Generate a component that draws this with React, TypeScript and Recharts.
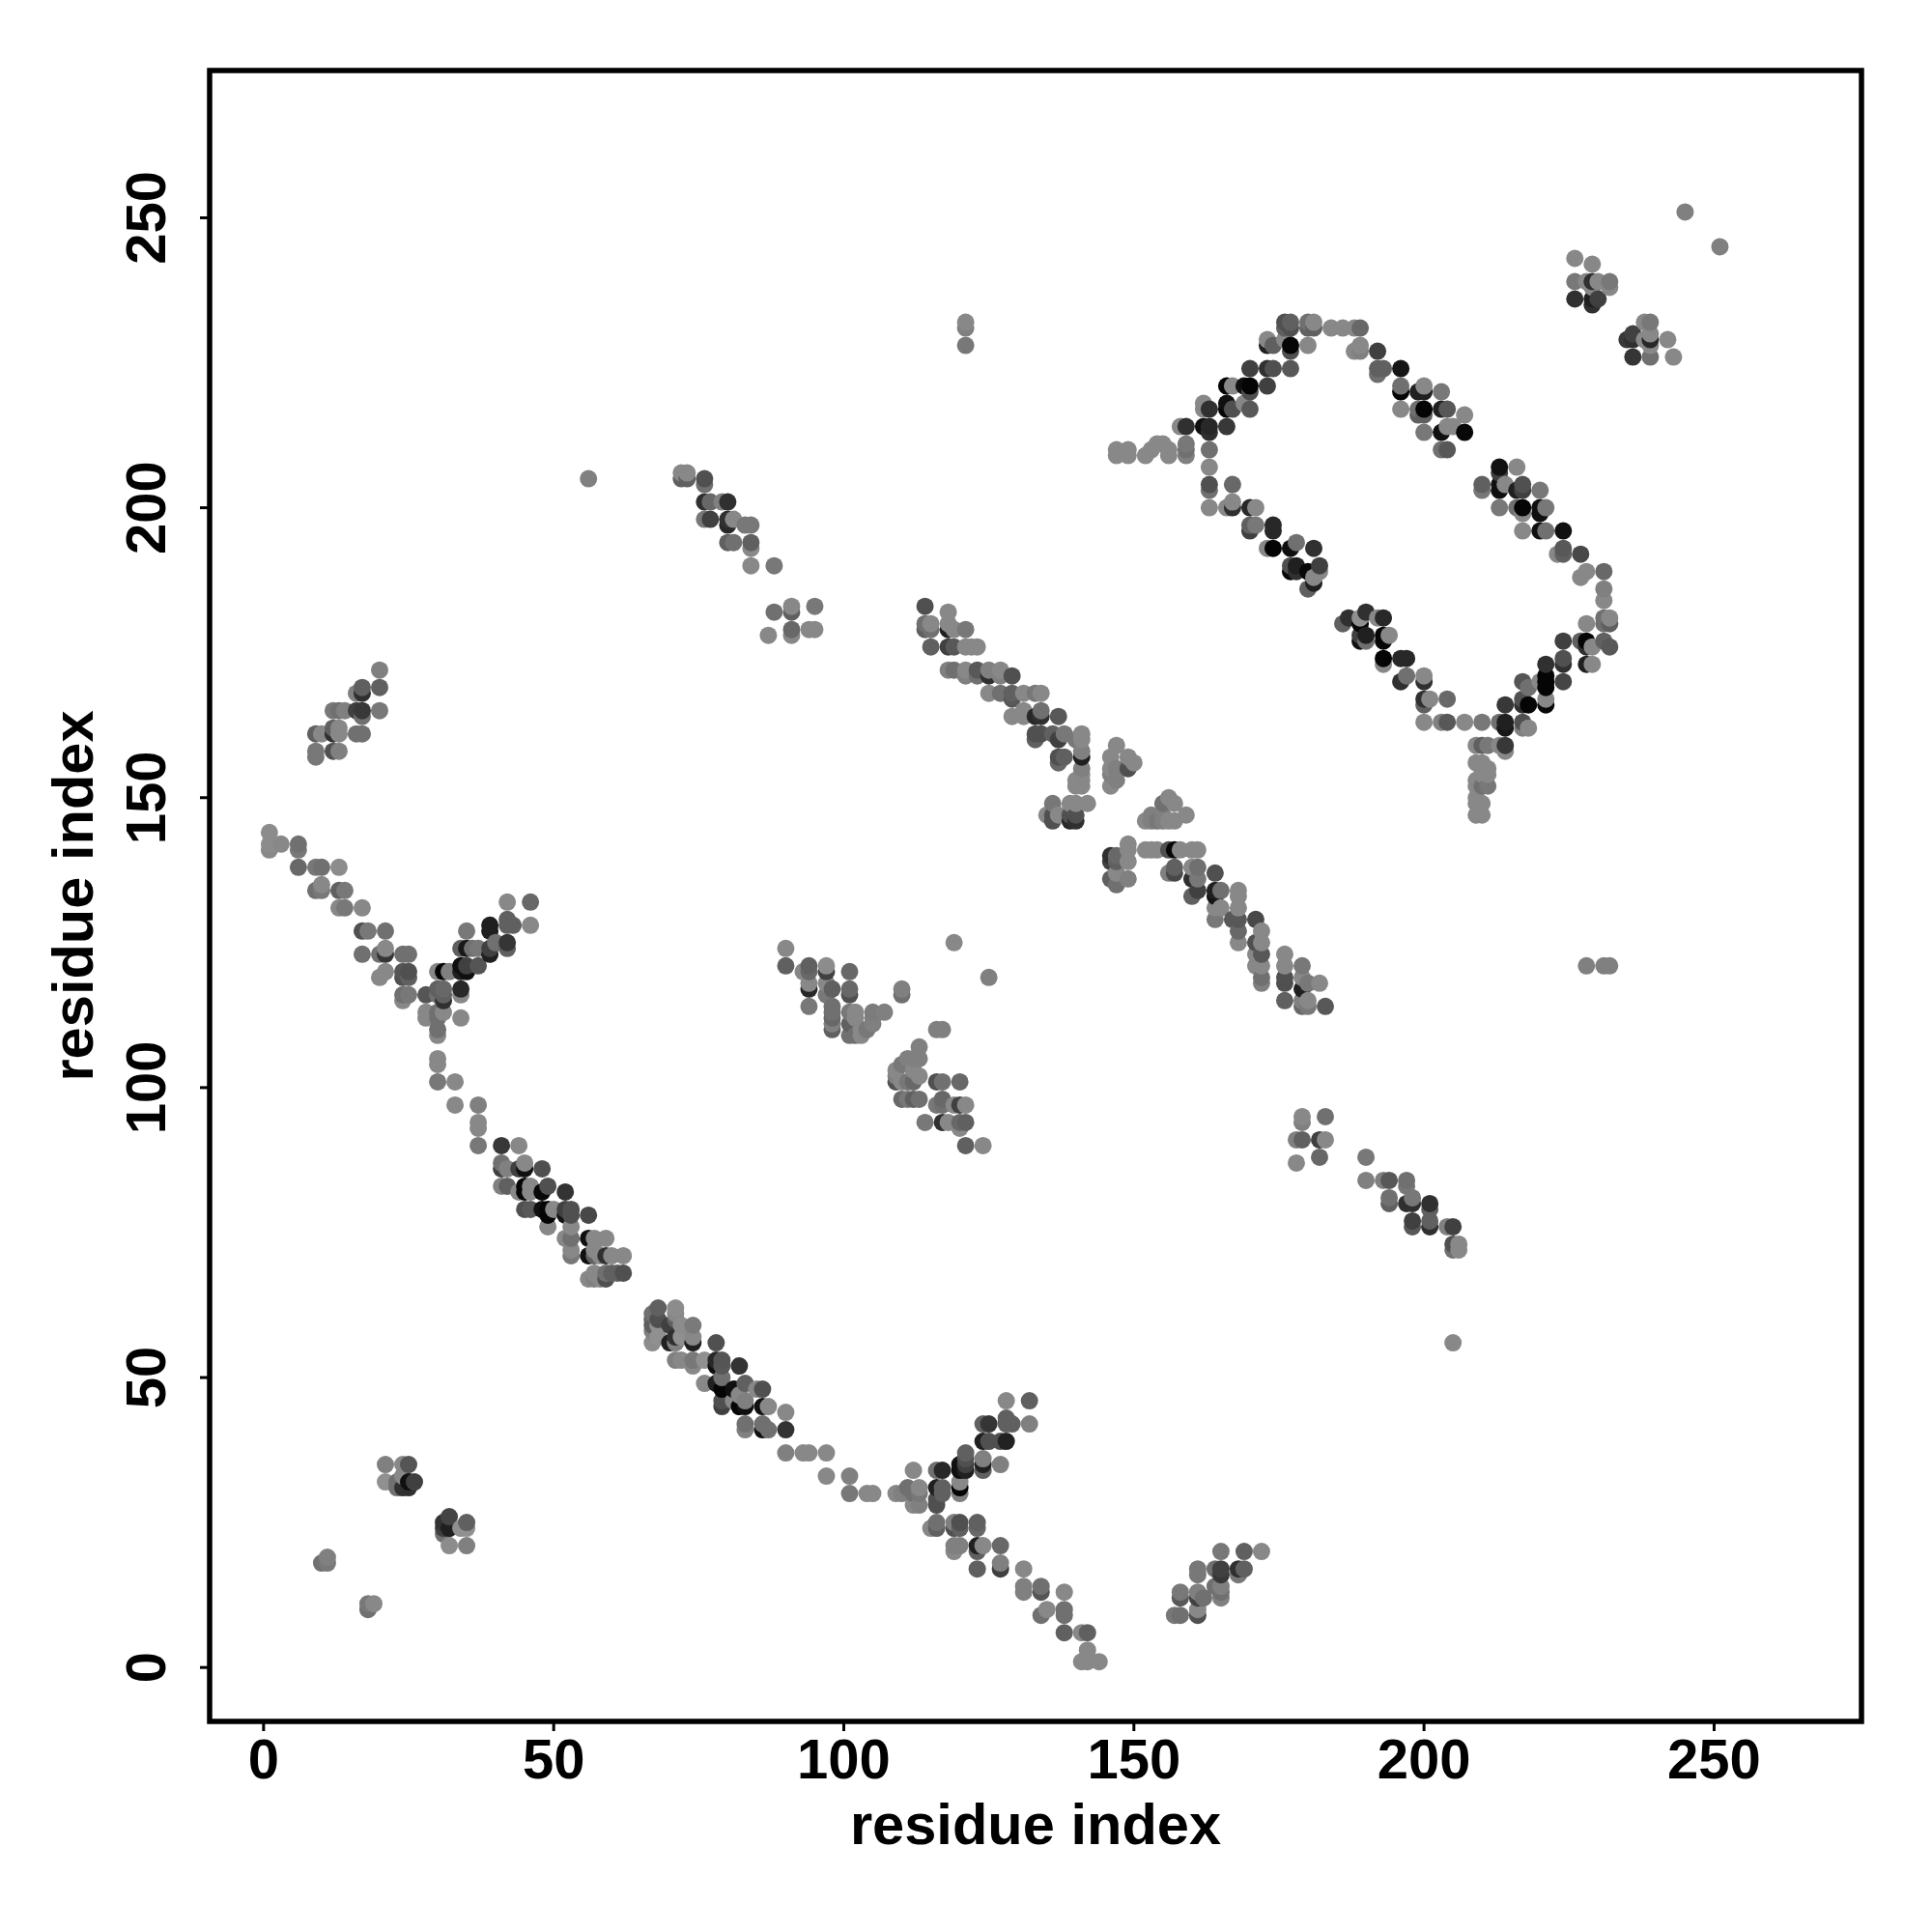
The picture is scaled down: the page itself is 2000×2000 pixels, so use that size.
import { ScatterChart, Scatter, XAxis, YAxis, ReferenceArea, Label } from "recharts";

// [residue i, residue j, grey level]
type Contact = [number, number, number];

const TICKS = [0, 50, 100, 150, 200, 250];
const DOMAIN: [number, number] = [-9.3, 275.4];
const FONT = "'Liberation Sans', Arial, sans-serif";

const patchesLowerLeft: Contact[] = [
  [21,35,0x80],[21,32,0x90],[24,35,0x88],[25,35,0x55],[23,31,0x70],[24,31,0x30],[25,31,0x30],[26,32,0x40],[25,32,0x10],[23,32,0x70],[24,33,0x88],
  [32,26,0x44],[35,25,0x60],[35,24,0x90],[31,25,0x33],[31,24,0x40],[31,23,0x70],[32,24,0x20],[32,21,0x8c],[35,21,0x80],[34,24,0x90],
  [11,19,0x80],[10,18,0x70],[11,18,0x78],[19,11,0x88],[18,11,0x78],[18,10,0x70],
];

const strandLowerA: Contact[] = [
  [41,90,0x38],[44,90,0x88],[41,87,0x70],[42,86,0x80],[41,86,0x40],[41,83,0x80],[42,83,0x60],[44,86,0x40],[45,87,0x88],[45,86,0x10],[48,86,0x50],
  [44,82,0x88],[45,83,0x05],[45,82,0x05],[46,83,0x88],[46,82,0x88],[48,82,0x08],[49,83,0x50],[52,82,0x33],[45,79,0x50],[46,79,0x58],[48,79,0x10],
  [49,79,0x05],[49,78,0x05],[50,79,0x88],[49,76,0x88],[52,79,0x40],[53,79,0x50],[52,78,0x15],[53,78,0x50],[56,78,0x48],[53,76,0x88],[52,74,0x88],
  [53,74,0x70],[53,72,0x88],[53,71,0x78],[56,74,0x10],[57,74,0x88],[59,74,0x88],[56,71,0x10],[57,72,0x88],[57,71,0x60],[58,71,0x88],[59,71,0x30],
  [60,71,0x88],[62,71,0x88],[56,67,0x88],[57,68,0x88],[58,67,0x88],[59,68,0x70],[60,68,0x60],[61,68,0x60],[62,68,0x50],[57,67,0x80],[59,67,0x50],
];

const strandLowerB: Contact[] = [
  [68,62,0x60],[67,61,0x70],[67,60,0x60],[68,60,0x50],[67,59,0x60],[68,59,0x90],[67,58,0x80],[68,57,0x90],[67,56,0x8c],[71,62,0x8c],[71,61,0x88],
  [70,59,0x40],[71,60,0x60],[72,59,0x8c],[71,57,0x30],[70,56,0x20],[72,57,0x90],[71,56,0x80],[74,59,0x7a],[74,57,0x88],[74,56,0x20],[71,53,0x80],
  [72,53,0x88],[74,53,0x78],[74,52,0x88],[76,53,0x90],[78,56,0x50],[78,53,0x28],[79,53,0x55],[78,52,0x10],[79,52,0x58],[82,52,0x33],[76,49,0x88],
  [78,49,0x20],[79,50,0x70],[79,48,0x05],[79,46,0x50],[79,45,0x40],[81,48,0x10],[83,49,0x60],[82,47,0x88],[81,46,0x88],[82,45,0x05],[83,45,0x10],
  [83,46,0x80],[86,48,0x50],[85,48,0x88],[86,45,0x10],[87,45,0x88],[83,42,0x70],[83,41,0x80],[86,41,0x10],[87,41,0x70],[86,42,0x70],[90,44,0x88],
  [90,41,0x33],[90,37,0x80],[93,37,0x88],[94,37,0x88],[97,37,0x88],[97,33,0x88],[101,33,0x80],[101,30,0x78],[104,30,0x88],[105,30,0x88],
];

const crossingLower: Contact[] = [
  [109,30,0x88],[110,30,0x80],[112,34,0x88],[111,31,0x70],[112,30,0x70],[113,31,0x88],[112,28,0x88],[113,28,0x80],[113,30,0x78],[116,34,0x70],
  [117,34,0x28],[116,31,0x20],[117,31,0x60],[116,28,0x50],[117,30,0x60],[116,29,0x50],[120,32,0x88],[120,31,0x05],[120,30,0x80],[120,35,0x10],
  [121,37,0x60],[121,35,0x40],[121,36,0x50],[120,34,0x10],[121,34,0x20],[124,36,0x80],[124,35,0x20],[124,34,0x60],[127,35,0x80],[124,39,0x20],
  [125,39,0x50],[128,39,0x22],[127,39,0x50],[124,42,0x60],[125,42,0x35],[128,43,0x60],[129,42,0x60],[128,42,0x60],[128,46,0x88],[132,46,0x60],
  [132,42,0x80],[116,25,0x70],[115,24,0x88],[116,24,0x60],[119,25,0x80],[120,25,0x50],[119,24,0x50],[120,24,0x60],[123,25,0x60],[123,24,0x68],
  [119,20,0x88],[120,21,0x80],[119,21,0x80],[123,21,0x20],[124,21,0x88],[127,21,0x68],[123,20,0x60],[123,17,0x60],[127,18,0x80],[127,17,0x40],
  [131,17,0x88],[131,14,0x80],[131,13,0x80],[134,14,0x70],[134,13,0x55],[134,9,0x70],[135,10,0x88],[138,13,0x88],[138,10,0x70],[138,9,0x70],
  [138,6,0x60],[141,6,0x88],[142,6,0x60],[142,3,0x88],[141,1,0x88],[142,1,0x88],[144,1,0x88],
];

const crossingUpper: Contact[] = [
  [1,144,0x8c],[1,142,0x8c],[1,141,0x88],[3,142,0x88],[6,142,0x70],[6,141,0x78],[6,138,0x68],[9,138,0x78],[10,138,0x70],[13,138,0x8c],[10,135,0x88],
  [9,134,0x70],[10,134,0x78],[13,134,0x60],[14,134,0x78],[13,131,0x88],[14,131,0x78],[17,131,0x88],[17,127,0x50],[18,127,0x78],[21,127,0x70],
  [17,123,0x70],[20,123,0x70],[21,123,0x35],[21,124,0x88],[24,123,0x70],[25,123,0x70],[20,119,0x88],[21,120,0x88],[24,120,0x55],[25,120,0x50],
  [24,119,0x50],[25,119,0x60],[24,116,0x70],[25,116,0x78],[24,115,0x88],[28,116,0x55],[30,120,0x88],[31,120,0x05],[32,120,0x80],[30,117,0x60],
  [31,117,0x68],[31,116,0x60],[31,115,0x30],[30,116,0x70],[34,117,0x28],[34,116,0x88],[28,113,0x88],[28,112,0x88],[30,113,0x70],[31,113,0x88],
  [30,112,0x70],[34,112,0x88],[30,110,0x70],[30,109,0x88],[30,105,0x88],[30,104,0x88],[30,101,0x78],[33,101,0x88],[33,97,0x88],[37,97,0x80],
  [37,94,0x88],[37,93,0x88],[37,90,0x78],[35,127,0x78],[34,124,0x60],[35,124,0x18],[36,124,0x70],[37,124,0x78],[34,121,0x10],[35,121,0x40],
  [35,120,0x10],[34,120,0x20],[37,121,0x55],[39,128,0x20],[39,127,0x20],[39,124,0x40],[39,123,0x20],[40,125,0x70],[42,129,0x60],[42,128,0x60],
  [43,128,0x60],[42,132,0x88],[46,132,0x68],[46,128,0x88],[42,125,0x35],[42,124,0x60],
];

const patchUpperLeft: Contact[] = [
  [20,172,0x80],[20,169,0x60],[17,169,0x60],[16,168,0x80],[17,168,0x30],[20,165,0x78],[17,165,0x38],[16,165,0x40],[17,164,0x70],[12,165,0x78],
  [13,165,0x70],[14,165,0x80],[12,162,0x60],[13,162,0x88],[13,161,0x88],[12,161,0x30],[16,161,0x70],[17,161,0x70],[9,161,0x60],[10,161,0x88],
  [12,158,0x50],[13,158,0x80],[9,158,0x78],[9,157,0x78],
];

const patchCentral: Contact[] = [
  [90,124,0x88],[90,121,0x60],[93,120,0x88],[94,121,0x60],[94,120,0x68],[94,118,0x88],[94,117,0x28],[94,114,0x78],[97,121,0x8c],[97,120,0x40],
  [97,118,0x88],[101,120,0x68],[101,117,0x68],[101,116,0x50],[98,117,0x60],[97,116,0x78],[98,114,0x70],[98,113,0x70],[98,112,0x68],[98,111,0x80],
  [98,110,0x60],[101,113,0x78],[102,113,0x88],[101,111,0x60],[101,109,0x70],[102,109,0x70],[103,109,0x88],[102,112,0x88],[103,110,0x88],[105,113,0x7c],
  [107,113,0x80],[105,112,0x80],[105,111,0x80],[104,110,0x78],[110,117,0x80],[110,116,0x70],[119,125,0x88],[125,119,0x80],[116,110,0x80],[117,110,0x80],
  [113,107,0x80],[111,105,0x80],[113,105,0x80],[112,105,0x80],[109,103,0x88],[110,104,0x78],[109,102,0x80],[109,101,0x50],[110,101,0x88],[112,103,0x88],
  [113,102,0x88],[111,101,0x78],[112,101,0x68],[116,101,0x50],[117,101,0x70],[120,101,0x68],[110,98,0x68],[111,98,0x78],[112,98,0x60],[113,98,0x70],
  [116,97,0x78],[117,98,0x68],[117,97,0x70],[119,97,0x88],[120,97,0x40],[121,97,0x88],[114,94,0x78],[117,94,0x30],[118,94,0x88],[120,94,0x68],
  [121,94,0x60],[120,93,0x88],[121,90,0x60],[124,90,0x88],
];

const helixUpper: Contact[] = [
  [114,183,0x50],[118,182,0x88],[114,180,0x70],[115,180,0x88],[114,179,0x60],[115,179,0x70],[115,176,0x60],[118,180,0x88],[118,179,0x20],[119,179,0x88],
  [121,179,0x78],[118,176,0x40],[119,176,0x58],[121,176,0x88],[122,176,0x88],[123,176,0x88],[118,172,0x80],[119,172,0x70],[121,172,0x88],[123,172,0x58],
  [125,172,0x80],[127,172,0x88],[121,171,0x80],[123,171,0x70],[125,171,0x30],[127,171,0x80],[129,171,0x50],[125,168,0x88],[127,168,0x70],[129,168,0x60],
  [129,167,0x58],[131,168,0x88],[133,168,0x78],[134,168,0x88],[129,164,0x88],[131,165,0x88],[131,164,0x88],[133,164,0x28],[134,165,0x70],[134,164,0x30],
  [137,164,0x58],[133,161,0x50],[134,161,0x50],[133,160,0x60],[136,161,0x60],[137,160,0x40],[138,161,0x78],[141,161,0x88],[141,160,0x88],[140,160,0x78],
  [137,157,0x50],[138,157,0x60],[137,156,0x68],[141,158,0x80],[141,157,0x20],[141,155,0x80],[141,154,0x88],[140,153,0x88],[141,153,0x88],[141,152,0x88],
  [140,152,0x88],[147,159,0x88],[146,157,0x88],[146,155,0x88],[146,154,0x80],[146,152,0x88],[147,155,0x80],[147,153,0x80],[149,157,0x88],[149,155,0x50],
  [150,156,0x88],[136,149,0x78],[135,147,0x88],[136,147,0x50],[136,146,0x50],[137,147,0x88],[139,149,0x88],[140,149,0x88],[142,149,0x88],[139,147,0x50],
  [140,147,0x50],[139,146,0x28],[140,146,0x30],
];

const helixLower: Contact[] = [
  [156,150,0x88],[155,149,0x70],[157,149,0x88],[155,147,0x80],[159,147,0x88],[152,146,0x88],[153,147,0x80],[153,146,0x80],[154,146,0x78],[155,146,0x80],
  [156,146,0x88],[157,146,0x88],[149,142,0x88],[149,141,0x88],[146,140,0x30],[147,140,0x68],[146,139,0x40],[147,139,0x60],[149,139,0x88],[152,141,0x88],
  [153,141,0x88],[154,141,0x88],[156,141,0x50],[157,141,0x08],[158,141,0x88],[161,141,0x88],[160,141,0x88],[146,136,0x60],[147,135,0x70],[147,137,0x88],
  [149,136,0x80],[156,137,0x80],[157,138,0x60],[157,137,0x48],[160,138,0x88],[161,138,0x70],[160,136,0x30],[161,136,0x78],[164,137,0x50],[160,133,0x60],
  [161,134,0x40],[165,134,0x70],[164,134,0x20],[164,133,0x15],[168,134,0x88],[168,133,0x88],[164,129,0x78],[165,131,0x88],[164,131,0x88],[168,131,0x88],
  [167,129,0x58],[168,129,0x58],[168,127,0x68],[168,125,0x88],[171,129,0x48],[172,127,0x88],[172,125,0x88],[171,125,0x50],[171,123,0x88],[172,123,0x58],
  [171,121,0x88],[172,121,0x88],[172,119,0x70],[172,118,0x80],[176,123,0x88],[176,121,0x88],[179,121,0x78],[176,119,0x50],[176,118,0x50],[179,119,0x88],
  [179,117,0x20],[180,118,0x78],[182,118,0x88],[176,115,0x60],[179,114,0x68],[180,115,0x88],[180,114,0x78],[183,114,0x58],[179,115,0x80],
  [228,121,0x80],[231,121,0x80],[232,121,0x80],
];

const ringTop: Contact[] = [
  [176,232,0x50],[177,232,0x60],[176,231,0x60],[177,231,0x50],[180,232,0x70],[181,232,0x88],[180,231,0x60],[181,231,0x60],[184,231,0x88],[186,231,0x88],
  [188,231,0x88],[189,231,0x68],[173,229,0x88],[173,228,0x20],[174,228,0x60],[176,229,0x88],[177,228,0x05],[177,227,0x50],[180,228,0x88],[188,227,0x88],
  [189,228,0x88],[189,227,0x80],[192,227,0x40],[170,224,0x40],[173,224,0x30],[174,224,0x50],[177,224,0x58],[192,224,0x60],[193,224,0x60],[192,223,0x70],
  [196,224,0x15],[166,221,0x05],[167,221,0x88],[169,221,0x10],[170,221,0x05],[173,221,0x40],[170,220,0x50],[196,221,0x70],[196,220,0x05],[199,220,0x20],
  [200,221,0x88],[200,220,0x20],[203,220,0x78],[162,218,0x88],[162,217,0x88],[163,217,0x30],[166,218,0x10],[166,217,0x05],[167,217,0x50],[169,218,0x88],
  [170,217,0x58],[196,217,0x88],[199,217,0x70],[200,217,0x05],[203,217,0x20],[204,217,0x58],[199,216,0x60],[200,216,0x60],[207,216,0x88],[158,214,0x88],
  [159,214,0x30],[162,214,0x10],[163,214,0x28],[166,214,0x38],[163,213,0x30],[200,213,0x78],[203,213,0x10],[204,214,0x88],[207,213,0x08],[205,214,0x88],
  [203,210,0x70],[204,210,0x58],[147,210,0x88],[149,210,0x88],[149,209,0x88],[147,209,0x88],[152,209,0x88],[153,210,0x88],[154,211,0x88],[155,211,0x88],
  [156,210,0x88],[156,209,0x88],[159,211,0x78],[159,210,0x70],[159,209,0x80],
];

const ringInner: Contact[] = [
  [163,210,0x70],[163,207,0x88],[163,204,0x50],[163,203,0x70],[167,204,0x68],[163,200,0x88],[166,200,0x88],[167,201,0x88],[167,200,0x30],[170,200,0x28],
  [171,200,0x88],[170,197,0x60],[171,197,0x78],[170,196,0x40],[174,197,0x28],[174,196,0x28],[173,193,0x88],[174,193,0x05],[177,193,0x10],[178,194,0x70],
  [181,193,0x30],[177,190,0x50],[178,190,0x20],[177,189,0x08],[178,189,0x30],[180,189,0x08],[182,190,0x40],[182,189,0x88],[181,188,0x88],[181,187,0x20],
  [180,186,0x60],[186,180,0x60],[187,181,0x30],[189,181,0x90],[190,182,0x30],[189,180,0x08],[193,181,0x28],[192,181,0x88],[189,178,0x40],[190,178,0x20],
  [189,177,0x10],[190,177,0x70],[193,178,0x05],[194,178,0x88],[193,177,0x08],[193,174,0x05],[193,173,0x88],[196,174,0x28],[197,174,0x28],[196,170,0x30],
  [197,171,0x70],[200,171,0x88],[200,170,0x30],[200,167,0x30],[200,166,0x60],[201,167,0x88],[204,167,0x68],[200,163,0x88],[203,163,0x80],[204,163,0x58],
  [207,163,0x88],[210,163,0x78],[213,163,0x70],[214,163,0x20],[214,162,0x18],[214,166,0x38],
];

const ringRight: Contact[] = [
  [209,159,0x88],[210,159,0x60],[211,159,0x78],[213,159,0x88],[214,159,0x38],[214,158,0x88],[209,156,0x88],[210,156,0x88],[210,155,0x88],[211,155,0x88],
  [211,154,0x88],[210,154,0x88],[209,153,0x88],[210,152,0x70],[209,152,0x88],[211,152,0x78],[209,150,0x88],[210,149,0x88],[209,149,0x88],[209,147,0x88],[210,147,0x88],
  [217,163,0x50],[218,162,0x88],[217,162,0x80],[217,170,0x55],[218,169,0x70],[217,167,0x50],[218,166,0x05],[217,166,0x30],[221,173,0x30],[221,171,0x05],
  [221,169,0x05],[221,170,0x05],[224,173,0x30],[224,174,0x50],[224,170,0x45],[224,177,0x40],[221,167,0x88],[221,166,0x08],[220,170,0x88],[227,177,0x60],
  [228,177,0x05],[228,180,0x88],[228,176,0x30],[229,176,0x88],[228,173,0x20],[229,173,0x88],[231,189,0x68],[231,186,0x80],[231,184,0x88],[228,189,0x88],
  [227,188,0x88],[224,193,0x58],[224,192,0x60],[223,192,0x88],[227,192,0x48],[231,181,0x70],[232,181,0x88],[231,180,0x70],[232,180,0x60],[231,177,0x60],
  [232,176,0x58],[213,207,0x12],[213,206,0x40],[216,207,0x88],[210,204,0x60],[210,203,0x78],[213,204,0x10],[213,203,0x10],[214,204,0x88],[217,204,0x50],
  [217,203,0x40],[216,203,0x20],[220,203,0x78],[213,200,0x78],[216,200,0x70],[217,200,0x05],[220,200,0x10],[221,200,0x78],[217,199,0x88],[220,199,0x10],
  [217,196,0x88],[220,196,0x10],[221,196,0x70],[224,196,0x10],
];

const patchesUpperRight: Contact[] = [
  [245,251,0x80],[251,245,0x80],[226,243,0x88],[229,242,0x88],[226,239,0x78],[228,239,0x88],[229,239,0x30],[230,239,0x88],[232,239,0x78],[232,238,0x88],
  [226,236,0x30],[229,235,0x30],[229,236,0x20],[230,236,0x40],[229,238,0x88],[239,232,0x78],[238,232,0x88],[236,230,0x40],[235,229,0x38],[236,229,0x30],
  [238,229,0x88],[239,230,0x88],[239,229,0x28],[239,228,0x88],[242,229,0x88],[236,226,0x35],[239,226,0x70],[243,226,0x88],
  [121,232,0x88],[121,231,0x80],[121,228,0x78],[56,205,0x80],
];

const strandTopCentre: Contact[] = [
  [72,206,0x88],[73,206,0x88],[72,205,0x60],[73,205,0x60],[76,205,0x50],[76,204,0x70],[76,201,0x30],[77,201,0x68],[79,201,0x80],[80,201,0x30],[76,198,0x78],
  [77,198,0x40],[80,198,0x30],[80,197,0x28],[81,198,0x88],[83,197,0x78],[84,197,0x78],[80,194,0x60],[81,194,0x70],[84,194,0x60],[84,193,0x88],[84,190,0x88],
  [88,190,0x78],[88,182,0x70],[91,183,0x88],[91,182,0x60],[95,183,0x78],[87,178,0x88],[91,179,0x68],[91,178,0x88],[94,179,0x88],[95,179,0x88],
];

const patchesLowerRight: Contact[] = [
  [165,20,0x78],[169,20,0x60],[172,20,0x88],[161,17,0x78],[161,16,0x78],[164,17,0x70],[165,17,0x40],[165,16,0x38],[168,17,0x30],[169,17,0x60],[168,16,0x78],
  [158,13,0x78],[158,12,0x58],[161,13,0x80],[161,12,0x40],[162,12,0x70],[164,14,0x70],[165,14,0x80],[165,13,0x70],[165,12,0x80],[157,9,0x78],[158,9,0x70],
  [161,10,0x88],[161,9,0x50],[179,95,0x88],[179,94,0x80],[183,95,0x70],[178,91,0x80],[179,91,0x60],[182,91,0x40],[183,91,0x88],[178,87,0x88],[182,88,0x68],
  [190,88,0x78],[190,84,0x80],[193,84,0x80],[194,84,0x58],[197,84,0x70],[197,83,0x78],[194,81,0x70],[194,80,0x60],[197,80,0x30],[198,81,0x78],[198,80,0x30],
  [201,80,0x30],[201,79,0x60],[198,77,0x40],[198,76,0x58],[201,77,0x60],[201,76,0x30],[204,76,0x80],[205,76,0x40],[205,73,0x50],[206,73,0x88],[205,72,0x70],
  [206,72,0x88],[205,56,0x88],
];

// the source drew contacts in residue order, later ones cover earlier ones
const contacts = [
  ...patchesLowerLeft, ...strandLowerA, ...strandLowerB, ...crossingLower, ...crossingUpper, ...patchUpperLeft, ...patchCentral,
  ...helixUpper, ...helixLower, ...ringTop, ...ringInner, ...ringRight, ...patchesUpperRight, ...strandTopCentre, ...patchesLowerRight,
]
  .map(([x, y, grey]) => ({ x, y, grey }))
  .sort((a, b) => a.x - b.x || a.y - b.y);

const Dot = ({ cx, cy, payload }: any) => (
  <circle cx={cx} cy={cy} r={9} fill={`rgb(${payload.grey},${payload.grey},${payload.grey})`} />
);

const XTick = ({ x, payload }: any) => (
  <text x={x} y={1841} textAnchor="middle" fontFamily={FONT} fontWeight="bold" fontSize={58} fill="#000">
    {payload.value}
  </text>
);

const YTick = ({ y, payload }: any) => (
  <text x={171} y={y} transform={`rotate(-90 171 ${y})`} textAnchor="middle" fontFamily={FONT} fontWeight="bold" fontSize={58} fill="#000">
    {payload.value}
  </text>
);

export default function App() {
  return (
    <div style={{ position: "absolute", left: 0, top: 0, background: "#fff" }}>
      <ScatterChart width={2000} height={2000} margin={{ top: 73, right: 73, bottom: 0, left: 0 }}>
        <XAxis
          type="number"
          dataKey="x"
          domain={DOMAIN}
          ticks={TICKS}
          height={218}
          axisLine={false}
          tickSize={10}
          tickLine={{ stroke: "#000", strokeWidth: 3 }}
          tick={<XTick />}
          interval={0}
        >
          <Label
            value="residue index"
            position="insideBottom"
            offset={91}
            style={{ fontFamily: FONT, fontWeight: "bold", fontSize: 59.6, fill: "#000" }}
          />
        </XAxis>
        <YAxis
          type="number"
          dataKey="y"
          domain={DOMAIN}
          ticks={TICKS}
          width={217}
          axisLine={false}
          tickSize={10}
          tickLine={{ stroke: "#000", strokeWidth: 3 }}
          tick={<YTick />}
          interval={0}
        >
          <Label
            value="residue index"
            angle={-90}
            position="insideLeft"
            offset={75}
            style={{ fontFamily: FONT, fontWeight: "bold", fontSize: 59.6, fill: "#000", textAnchor: "middle" }}
          />
        </YAxis>
        <Scatter data={contacts} isAnimationActive={false} shape={<Dot />} />
        <ReferenceArea
          x1={DOMAIN[0]}
          x2={DOMAIN[1]}
          y1={DOMAIN[0]}
          y2={DOMAIN[1]}
          fill="none"
          stroke="#000"
          strokeWidth={5.5}
          ifOverflow="visible"
        />
      </ScatterChart>
    </div>
  );
}
